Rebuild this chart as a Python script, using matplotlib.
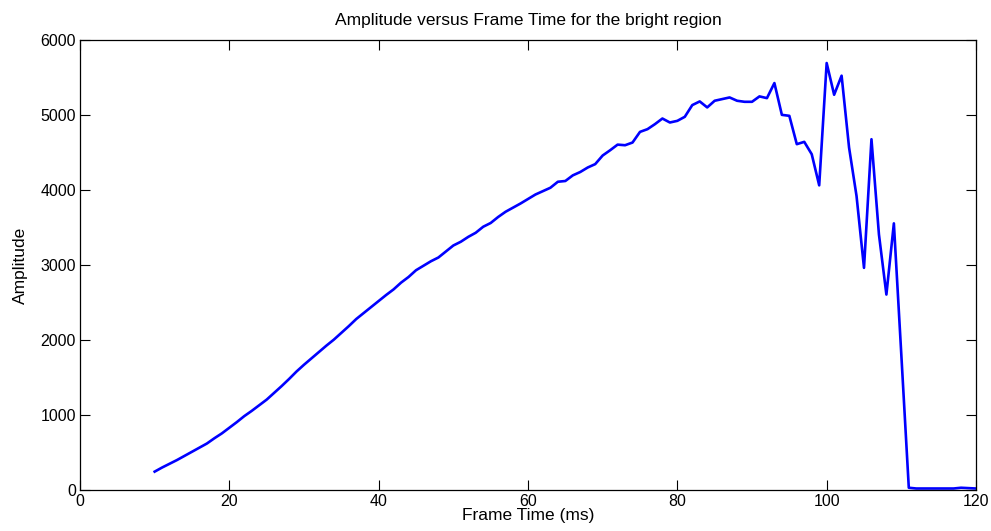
import numpy as np
import matplotlib.pyplot as plt

plt.rcParams['font.family'] = ['Liberation Sans', 'DejaVu Sans']

# Frame time in ms
frame_time = np.arange(10, 121)

# Amplitude, one value per ms
amplitude = [
    245, 300, 350, 400, 455, 510, 565, 620, 690, 755,          # 10-19
    830, 905, 985, 1055, 1130, 1205, 1295, 1385, 1480, 1580,   # 20-29
    1670, 1755, 1840, 1925, 2005, 2095, 2185, 2280, 2360, 2440,  # 30-39
    2520, 2600, 2675, 2765, 2840, 2930, 2990, 3050, 3100, 3180,  # 40-49
    3260, 3310, 3375, 3430, 3510, 3560, 3640, 3710, 3765, 3820,  # 50-59
    3880, 3940, 3985, 4030, 4110, 4120, 4195, 4240, 4300, 4345,  # 60-69
    4460, 4530, 4605, 4597, 4633, 4775, 4811, 4878, 4953, 4900,  # 70-79
    4922, 4976, 5132, 5181, 5101, 5190, 5212, 5234, 5190, 5176,  # 80-89
    5176, 5248, 5225, 5426, 5002, 4989, 4611, 4642, 4477, 4062,  # 90-99
    5693, 5270, 5524, 4566, 3920, 2962, 4677, 3408, 2606, 3555,  # 100-109
    1800, 30, 20, 20, 20, 20, 20, 20, 30, 25,                   # 110-119
    20,                                                          # 120
]

fig = plt.figure(figsize=(9.91, 5.31), dpi=100)
ax = fig.add_axes([80 / 991, 1 - 490 / 531, 896 / 991, 450 / 531])

ax.plot(frame_time, amplitude, color='#0000ff', linewidth=1.9)

ax.set_xlim(0, 120)
ax.set_ylim(0, 6000)
ax.set_xticks(range(0, 121, 20))
ax.set_yticks(range(0, 6001, 1000))
ax.tick_params(direction='in', length=7, width=0.8, top=True, right=True,
               labelsize=11.5, pad=3)
for s in ax.spines.values():
    s.set_linewidth(0.9)

ax.set_title('Amplitude versus Frame Time for the bright region', fontsize=12.5, pad=11)
ax.set_xlabel('Frame Time (ms)', fontsize=12.5, labelpad=-1)
ax.set_ylabel('Amplitude', fontsize=12.5, labelpad=9)

fig.savefig('out.png', dpi=100)
